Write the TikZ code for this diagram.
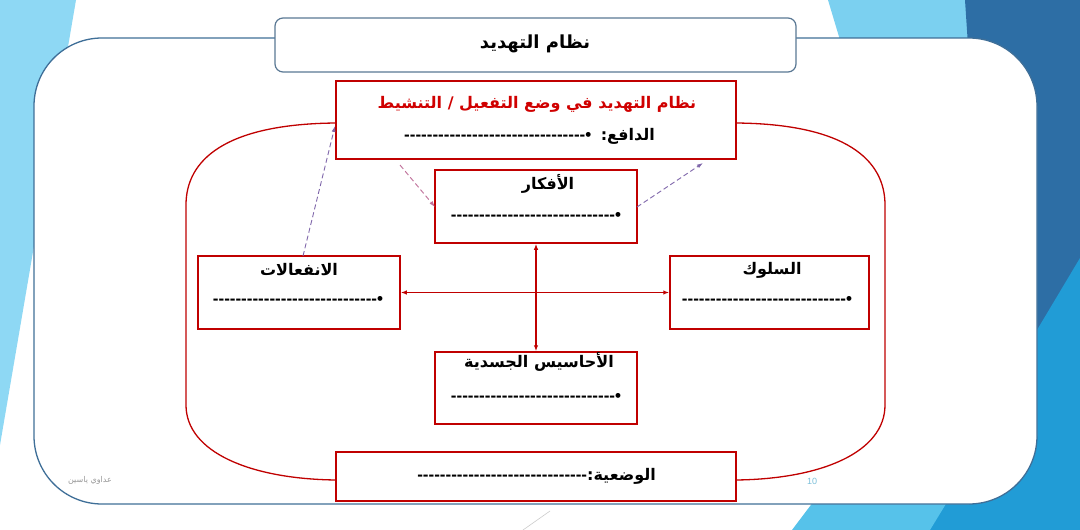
\documentclass[tikz,border=0pt]{standalone}
\usepackage{fontspec}
\TeXXeTstate=1
\newfontfamily\arabicfont[Script=Arabic]{DejaVu Sans}
\newfontfamily\dashfont{Liberation Sans}
\usetikzlibrary{arrows.meta}
\definecolor{boxred}{HTML}{C00000}
\definecolor{titlered}{HTML}{D00000}
\definecolor{panelblue}{HTML}{3F6F98}
\definecolor{lightsky}{HTML}{8ED8F4}
\definecolor{skyb}{HTML}{7BD0F0}
\definecolor{darkb}{HTML}{2D6EA5}
\definecolor{midb}{HTML}{219CD6}
\definecolor{botb}{HTML}{56C2EA}
\definecolor{dashpink}{HTML}{C0709A}
\definecolor{dashpurple}{HTML}{7F66AA}
\definecolor{titleframe}{HTML}{5A7894}
\tikzset{
  redbox/.style={draw=boxred, line width=1.5, fill=white, inner sep=0},
  arlabel/.style={font=\arabicfont\bfseries\fontsize{16}{19}\selectfont, inner sep=0},
  dashline/.style={font=\dashfont\bfseries\fontsize{17}{19}\selectfont, inner sep=0},
  redarrow/.style={draw=boxred, line width=1.2, {Latex[length=6,width=4.5]}-{Latex[length=6,width=4.5]}},
  dasharrow/.style={line width=0.9, dashed, dash pattern=on 5pt off 3pt, -{Latex[length=6,width=4]}},
}
\begin{document}
\begin{tikzpicture}[x=1pt,y=-1pt]
\useasboundingbox (0,0) rectangle (1080,530);
% background
\fill[white] (0,0) rectangle (1080,530);
\fill[lightsky] (0,0) -- (76,0) -- (0,445) -- cycle;
\fill[skyb] (828,0) -- (975,0) -- (1000,140) -- (870,140) -- cycle;
\fill[darkb] (965,0) -- (1080,0) -- (1080,530) -- (1000,530) -- cycle;
\fill[midb] (1080,258) -- (1080,530) -- (925,530) -- (1037,330) -- cycle;
\fill[botb] (792,530) -- (930,530) -- (985,440) -- (860,440) -- cycle;
\draw[gray!40, line width=0.6] (523,530) -- (550,511);
% white panel
\draw[panelblue, line width=1.3, fill=white, rounded corners=68] (34,38) rectangle (1037,504);
% title box
\node[draw=titleframe, line width=1.2, fill=white, rounded corners=8, minimum width=521, minimum height=54, inner sep=0] (title) at (535.5,45) {};
\node[arlabel, font=\arabicfont\bfseries\fontsize{18}{21}\selectfont] (titletext) at (535,44) {\beginR نظام التهديد\endR};
% red enclosing outline
\coordinate (olt) at (336,123);
\coordinate (ort) at (736,123);
\coordinate (olb) at (336,480);
\coordinate (orb) at (736,480);
\draw[boxred, line width=1.3] (olt) .. controls (225,124) and (186,160) .. (186,205) -- (186,405)
  .. controls (186,452) and (250,479) .. (olb);
\draw[boxred, line width=1.3] (ort) .. controls (846,124) and (885,160) .. (885,205) -- (885,405)
  .. controls (885,452) and (822,479) .. (orb);
% boxes
\node[redbox, minimum width=400, minimum height=78] (top) at (536,120) {};
\node[redbox, minimum width=202, minimum height=73] (thoughts) at (536,206.5) {};
\node[redbox, minimum width=202, minimum height=73] (emotions) at (299,292.5) {};
\node[redbox, minimum width=199, minimum height=73] (behavior) at (769.5,292.5) {};
\node[redbox, minimum width=202, minimum height=72] (body) at (536,388) {};
\node[redbox, minimum width=400, minimum height=49] (situation) at (536,476.5) {};
% texts
\node[arlabel, text=titlered] (toptitle) at (537,104) {\beginR نظام التهديد في وضع التفعيل / التنشيط\endR};
\node[inner sep=0, anchor=east] (motive) at (655,136) {\dashfont\bfseries\fontsize{17}{19}\selectfont --------------------------------•\ \ \arabicfont\bfseries\fontsize{16}{19}\selectfont\beginR الدافع:\endR};
\node[arlabel] (thoughtstitle) at (548,184) {\beginR الأفكار\endR};
\node[dashline] (thoughtsline) at (536,216) {-----------------------------•};
\node[arlabel] (emotionstitle) at (299,270) {\beginR الانفعالات\endR};
\node[dashline] (emotionsline) at (298,300) {-----------------------------•};
\node[arlabel] (behaviortitle) at (772,270) {\beginR السلوك\endR};
\node[dashline] (behaviorline) at (767,300) {-----------------------------•};
\node[arlabel] (bodytitle) at (539,362) {\beginR الأحاسيس الجسدية\endR};
\node[dashline] (bodyline) at (536,397) {-----------------------------•};
\node[inner sep=0, anchor=east] (sittext) at (656,476) {\dashfont\bfseries\fontsize{17}{19}\selectfont ------------------------------\arabicfont\bfseries\fontsize{16}{19}\selectfont\beginR الوضعية:\endR};
% footer
\node[inner sep=0, text=gray!80, font=\arabicfont\fontsize{8}{9}\selectfont] (author) at (90,480) {\beginR عداوي ياسين\endR};
\node[inner sep=0, text=skyb!80!gray, font=\dashfont\fontsize{9}{10}\selectfont] (pagenum) at (812,481) {10};
% arrows
\draw[redarrow] (emotions.east) -- (behavior.west);
\draw[redarrow] (thoughts.south) -- (body.north);
\coordinate (d1s) at (400,165);
\coordinate (d1e) at (435,207);
\draw[dasharrow, dashpink] (d1s) -- (d1e);
\coordinate (d2s) at (303,256);
\coordinate (d2e) at (335,126);
\draw[dasharrow, dashpurple] (d2s) -- (d2e);
\coordinate (d3s) at (637,207);
\coordinate (d3e) at (703,163);
\draw[dasharrow, dashpurple] (d3s) -- (d3e);
\end{tikzpicture}
\end{document}
